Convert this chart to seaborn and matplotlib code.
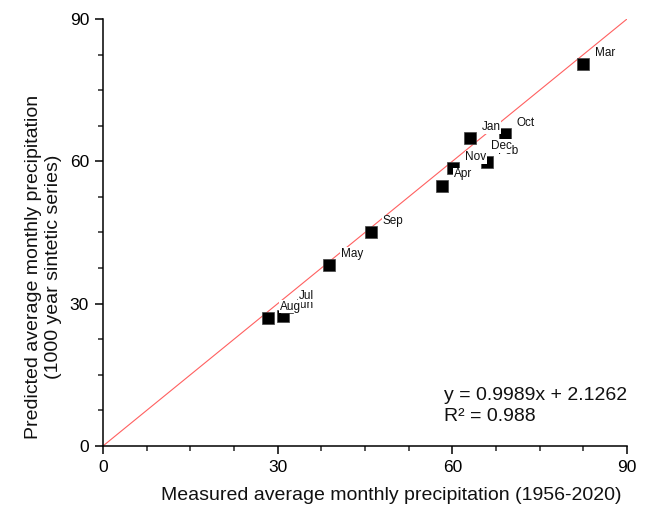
import matplotlib
matplotlib.use("Agg")
import matplotlib.pyplot as plt
from matplotlib.ticker import MultipleLocator
import seaborn as sns
import pandas as pd

months = ["Jan", "Feb", "Mar", "Apr", "May", "Jun",
          "Jul", "Aug", "Sep", "Oct", "Nov", "Dec"]
measured = [63.0, 65.9, 82.5, 58.2, 38.8, 31.0, 31.6, 28.3, 46.0, 69.0, 60.2, 64.6]
predicted = [64.9, 59.9, 80.5, 54.9, 38.2, 27.3, 29.3, 27.0, 45.0, 65.8, 58.5, 60.9]
fit_text = ["y = 0.9989x + 2.1262", "R\u00b2 = 0.988"]

df = pd.DataFrame({"month": months, "measured": measured, "predicted": predicted})

sns.set_theme(style="ticks")
plt.rcParams["font.family"] = ["Liberation Sans", "DejaVu Sans"]

fig = plt.figure(figsize=(6.46, 5.09), dpi=100)
ax = fig.add_axes([0.1594, 0.1238, 0.8112, 0.8389])

# 1:1 reference line
ax.axline((0, 0), slope=1, color="#ff6060", lw=0.8, zorder=1)

sns.scatterplot(data=df, x="measured", y="predicted", marker="s", s=80,
                color="black", edgecolor="#444444", linewidth=0.5,
                ax=ax, zorder=2, legend=False)

for m, xv, yv in zip(months, measured, predicted):
    ax.annotate(m, (xv, yv), xytext=(8.5, 8), textcoords="offset points",
                ha="left", va="center", fontsize=8.5, color="#111111", zorder=3,
                bbox=dict(boxstyle="square,pad=0.05", fc="white", ec="none"))

ax.set_xlim(0, 90)
ax.set_ylim(0, 90)
ax.xaxis.set_major_locator(MultipleLocator(30))
ax.yaxis.set_major_locator(MultipleLocator(30))
ax.xaxis.set_minor_locator(MultipleLocator(7.5))
ax.yaxis.set_minor_locator(MultipleLocator(7.5))
ax.tick_params(which="major", direction="out", length=6, width=1.1,
               labelsize=12.5, colors="black", pad=4)
ax.tick_params(which="minor", direction="out", length=3.5, width=1.1)

for side in ("top", "right"):
    ax.spines[side].set_visible(False)
for side in ("left", "bottom"):
    ax.spines[side].set_linewidth(1.1)
    ax.spines[side].set_color("black")

ax.set_xlabel("Measured average monthly precipitation (1956-2020)", fontsize=14,
              color="#111111")
ax.set_ylabel("Predicted average monthly precipitation\n(1000 year sintetic series)",
              fontsize=14, color="#111111")
ax.xaxis.set_label_coords(0.55, -0.095)
ax.yaxis.set_label_coords(-0.078, 0.42)

ax.text(0.65, 0.094, "\n".join(fit_text), transform=ax.transAxes,
        fontsize=14, ha="left", va="center", linespacing=1.3, color="#111111")

fig.savefig("out.png", dpi=100)
